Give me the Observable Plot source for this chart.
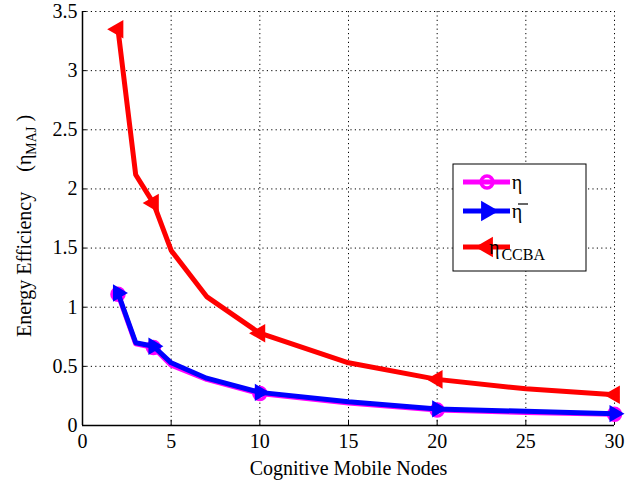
<!DOCTYPE html>
<html><head><meta charset="utf-8">
<script src="https://cdn.jsdelivr.net/npm/d3@7"></script>
<script src="https://cdn.jsdelivr.net/npm/@observablehq/plot@0.6"></script>
<style>
body{margin:0;background:#fff;}
#chart{position:relative;width:631px;height:482px;}
#chart svg, #chart svg text{font-family:"Liberation Serif", "DejaVu Serif", "Noto Serif", "Times New Roman", Times, serif !important;}
</style></head>
<body><div id="chart"></div>
<script>
const xTicks = [0,5,10,15,20,25,30];
const yTicks = [0,0.5,1,1.5,2,2.5,3,3.5];
const yTickLabels = ["0","0.5","1","1.5","2","2.5","3","3.5"];
const nodes = [2,3,4,5,7,10,15,20,25,30];
const etaCCBA = [3.35,2.12,1.88,1.48,1.09,0.78,0.53,0.39,0.31,0.26];
const etaBar  = [1.12,0.70,0.67,0.53,0.40,0.28,0.20,0.14,0.12,0.10];
const eta     = [1.11,0.69,0.66,0.51,0.39,0.27,0.19,0.13,0.11,0.095];
const markerNodes = [2,4,10,20,30];
const colors = ["#ff00ff","#0000ff","#ff0000"];

const mk = (vals, name) => nodes.map((x,i)=>({x, y: vals[i], s: name}));
const dEta = mk(eta,"eta"), dBar = mk(etaBar,"bar"), dC = mk(etaCCBA,"ccba");
const onlyM = d => d.filter(p => markerNodes.includes(p.x));
const FF = "'Liberation Serif', 'DejaVu Serif', serif";

const plot = Plot.plot({
  width: 631, height: 482,
  marginLeft: 82, marginRight: 17, marginTop: 11, marginBottom: 57,
  x: {domain: [0,30]},
  y: {domain: [0,3.5]},
  style: {fontFamily: FF, fontSize: "20px", color: "#000", background: "#fff"},
  marks: [
    Plot.ruleX(xTicks.filter(t=>t>0), {stroke: "#000", strokeDasharray: "1.2,3.2", strokeWidth: 1}),
    Plot.ruleY(yTicks.filter(t=>t>0), {stroke: "#000", strokeDasharray: "1.2,3.2", strokeWidth: 1}),
    Plot.ruleX(xTicks, {y1: 0, y2: 0.045, stroke: "#000"}),
    Plot.ruleY(yTicks, {x1: 0, x2: 0.25, stroke: "#000"}),
    Plot.ruleX([0], {stroke: "#000", strokeWidth: 1.5}),
    Plot.ruleY([0], {stroke: "#000", strokeWidth: 1.5}),
    Plot.axisX(xTicks, {tickSize: 0, tickPadding: 8, fontSize: 20, label: null}),
    Plot.axisY(yTicks, {tickSize: 0, tickPadding: 5, fontSize: 20, label: null, tickFormat: d=>yTickLabels[yTicks.indexOf(d)]}),
    Plot.line(dEta, {x:"x", y:"y", stroke: colors[0], strokeWidth: 5}),
    Plot.dot(onlyM(dEta), {x:"x", y:"y", stroke: colors[0], r: 6, strokeWidth: 3.5, fill: "none"}),
    Plot.line(dBar, {x:"x", y:"y", stroke: colors[1], strokeWidth: 5}),
    Plot.dot(onlyM(dBar), {x:"x", y:"y", symbol: "triangle", rotate: 90, stroke: colors[1], fill: colors[1], r: 4.5, strokeWidth: 3}),
    Plot.line(dC, {x:"x", y:"y", stroke: colors[2], strokeWidth: 5}),
    Plot.dot(onlyM(dC), {x:"x", y:"y", symbol: "triangle", rotate: -90, stroke: colors[2], fill: colors[2], r: 5, strokeWidth: 3}),
    Plot.text(["Cognitive Mobile Nodes"], {frameAnchor: "bottom", dy: 49, fontSize: 20}),
  ]
});
document.getElementById("chart").appendChild(plot);

const svg = d3.select(plot);
// Y label with subscript
const yl = svg.append("text").attr("transform","translate(31,226) rotate(-90)")
  .attr("text-anchor","middle").attr("font-size",20).attr("fill","#000");
yl.append("tspan").text("Energy Efficiency\u00a0\u00a0\u00a0\u00a0(η");
yl.append("tspan").attr("font-size",14).attr("dy",5).text("MAJ");
yl.append("tspan").attr("dy",-5).text("\u00a0)");

// Legend
const lg = svg.append("g");
lg.append("rect").attr("x",453).attr("y",164).attr("width",133).attr("height",107)
  .attr("fill","#fff").attr("stroke","#000").attr("stroke-width",1);
const rows = [182, 211, 247];
const sym = [d3.symbolCircle, d3.symbolTriangle, d3.symbolTriangle];
const rot = [0, 90, -90];
rows.forEach((y,i)=>{
  lg.append("line").attr("x1",463).attr("x2",510).attr("y1",y).attr("y2",y)
    .attr("stroke",colors[i]).attr("stroke-width",5);
  lg.append("path").attr("d", d3.symbol(sym[i], i===0?110:90)())
    .attr("transform",`translate(487,${y}) rotate(${rot[i]})`)
    .attr("fill", i===0?"none":colors[i]).attr("stroke",colors[i]).attr("stroke-width",3.5);
  const t = lg.append("text").attr("x",517).attr("y",y+7).attr("font-size",20).attr("fill","#000");
  t.append("tspan").text("η");
  if(i===1){ lg.append("line").attr("x1",518).attr("x2",528).attr("y1",y-7).attr("y2",y-7).attr("stroke","#000").attr("stroke-width",1.2); }
  if(i===2){ t.append("tspan").attr("font-size",16).attr("dx",2).attr("dy",6).text("CCBA"); }
});
</script></body></html>
